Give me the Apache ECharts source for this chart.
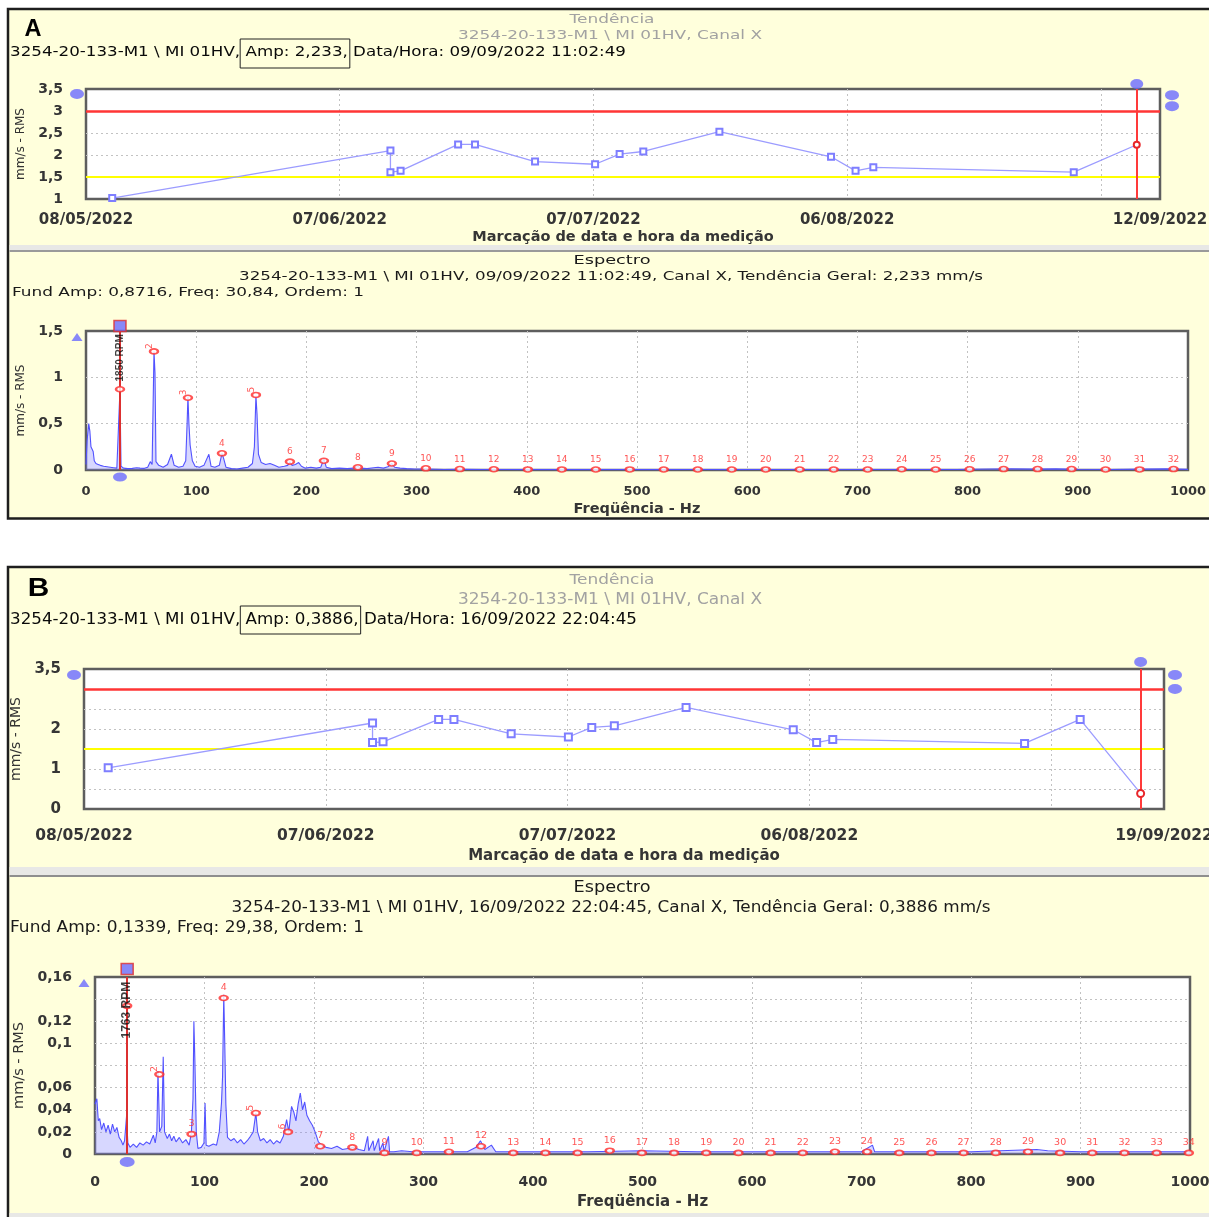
<!DOCTYPE html>
<html><head><meta charset="utf-8">
<script src="https://cdn.jsdelivr.net/npm/echarts@6/dist/echarts.min.js"></script>
<style>html,body{margin:0;padding:0;background:#fff;}#c{width:1209px;height:1217px;}</style>
</head><body><div id="c"></div>
<script>
// ---------------- DATA ----------------
const trendStart = '2022-05-08';
const trendEndA = '2022-09-12';
const trendEndB = '2022-09-19';
// day offsets from trendStart
const trendDaysA = [3.1, 36.0, 36.0, 37.2, 44.0, 46.0, 53.1, 60.2, 63.1, 65.9, 74.9, 88.1, 91.0, 93.1, 116.8, 124.25];
const trendValsA = [1.02, 2.10, 1.61, 1.64, 2.24, 2.24, 1.85, 1.79, 2.02, 2.08, 2.53, 1.96, 1.64, 1.72, 1.61, 2.233];
const trendDaysB = [3.0, 35.8, 35.8, 37.1, 44.0, 45.9, 53.0, 60.1, 63.0, 65.8, 74.7, 88.0, 90.9, 92.9, 116.7, 123.6, 131.1];
const trendValsB = [1.03, 2.15, 1.66, 1.68, 2.24, 2.24, 1.88, 1.80, 2.04, 2.08, 2.54, 1.98, 1.66, 1.74, 1.64, 2.24, 0.3886];
const alarmLevel = 3.0;
const alertLevel = 1.5;
const handleLevelsA = [3.36, 3.11];
const handleLevelsB = [3.35, 3.0];
const trendYLabelsB = [0, 1, 2, 3.5];

const fundA = 30.84, fundB = 29.38;
const rpmTextA = '1850 RPM', rpmTextB = '1763 RPM';
const rpmLabelAtA = 1.21, rpmLabelAtB = 0.13;

const spectrumA = [
[0,0.06],[1,0.32],[2.5,0.5],[3.5,0.42],[4.5,0.25],[5.5,0.27],[6.5,0.2],[7.5,0.1],[9,0.07],[11,0.06],[13,0.05],[16,0.04],[19,0.035],[22,0.03],[25,0.025],[28,0.02],[29.8,0.04],[30.8,0.86],[31.8,0.04],[34,0.02],[38,0.015],[42,0.018],[46,0.025],[49,0.02],[53,0.018],[56,0.03],[58.3,0.09],[60,0.06],[61.7,1.28],[62.6,1.05],[63.5,0.09],[66,0.05],[70,0.03],[74,0.06],[77.5,0.17],[80,0.05],[84,0.03],[88,0.04],[90.5,0.1],[91.8,0.52],[92.5,0.79],[93.4,0.5],[94.5,0.27],[96.5,0.1],[99,0.04],[103,0.03],[107,0.05],[111.5,0.17],[113.5,0.04],[117,0.03],[121,0.05],[123.4,0.18],[125,0.12],[127,0.03],[132,0.015],[137,0.01],[142,0.02],[147,0.03],[151,0.07],[152.8,0.25],[154.2,0.8],[155.2,0.6],[156.5,0.17],[159,0.08],[163,0.06],[167,0.07],[171,0.05],[175,0.03],[180,0.04],[183,0.05],[185,0.09],[187,0.05],[190,0.06],[193,0.08],[195.5,0.04],[199,0.02],[204,0.03],[209,0.02],[213,0.03],[215.9,0.12],[218,0.03],[223,0.015],[230,0.02],[237,0.015],[243,0.02],[246.7,0.04],[249,0.02],[255,0.015],[261,0.025],[265,0.03],[270,0.02],[274,0.035],[277.5,0.07],[280,0.03],[285,0.02],[291,0.015],[298,0.01],[310,0.01],[325,0.006],[340,0.008],[360,0.005],[380,0.006],[400,0.004],[430,0.005],[460,0.004],[490,0.006],[520,0.004],[550,0.005],[580,0.004],[610,0.006],[640,0.005],[670,0.004],[700,0.005],[730,0.006],[760,0.005],[790,0.006],[820,0.01],[840,0.012],[860,0.009],[880,0.012],[900,0.008],[930,0.005],[960,0.009],[980,0.012],[1000,0.007]
];
const harmonicsA = [0.8716, 1.28, 0.78, 0.18, 0.81, 0.09, 0.10, 0.03, 0.07, 0.018, 0.01, 0.008, 0.006, 0.006, 0.005, 0.006, 0.005, 0.005, 0.005, 0.006, 0.005, 0.005, 0.005, 0.008, 0.005, 0.008, 0.01, 0.01, 0.01, 0.005, 0.006, 0.01];
const rotatedLabelsA = [2, 3, 5];

const spectrumB = [
[0,0.045],[1.7,0.05],[3,0.03],[4.3,0.032],[6,0.022],[8,0.028],[10,0.02],[12,0.026],[14,0.018],[16,0.027],[18,0.02],[20,0.024],[22,0.015],[24,0.012],[25.5,0.008],[27,0.012],[28.8,0.034],[30,0.01],[32,0.006],[35,0.009],[38,0.006],[41,0.01],[44,0.008],[47,0.011],[50,0.009],[53.3,0.017],[55,0.01],[56.5,0.02],[57.5,0.075],[59,0.02],[61,0.025],[62.3,0.088],[63.5,0.02],[66,0.014],[68,0.018],[70,0.012],[72,0.016],[74,0.011],[77,0.015],[80,0.01],[83,0.013],[86,0.008],[88,0.019],[89.5,0.05],[90.3,0.12],[91.2,0.085],[92.5,0.02],[94,0.005],[97,0.006],[99.5,0.01],[100.5,0.046],[101.5,0.008],[104,0.007],[108,0.009],[111,0.008],[113.5,0.02],[115.5,0.046],[116.5,0.07],[117.6,0.144],[118.5,0.1],[119.5,0.045],[121,0.015],[124,0.012],[127,0.014],[130,0.01],[133,0.013],[136,0.009],[139,0.012],[142,0.016],[144.5,0.02],[146.9,0.037],[148.5,0.02],[151,0.012],[154,0.014],[157,0.01],[160,0.013],[163,0.009],[166,0.012],[169,0.01],[172,0.016],[175,0.031],[177,0.02],[179.5,0.043],[181.5,0.038],[183.5,0.03],[185.5,0.045],[187.5,0.055],[189.5,0.04],[191.5,0.047],[193.5,0.035],[196,0.03],[198.5,0.026],[201,0.02],[204,0.011],[207,0.008],[211,0.006],[216,0.005],[221,0.007],[226,0.004],[231,0.005],[236,0.006],[241,0.004],[246,0.003],[249,0.016],[250,0.003],[254,0.012],[255,0.003],[259,0.014],[260,0.003],[263,0.01],[264,0.002],[268,0.016],[269,0.002],[273,0.002],[280,0.003],[290,0.002],[300,0.002],[320,0.002],[340,0.002],[348,0.006],[352,0.012],[356,0.004],[362,0.008],[366,0.002],[400,0.002],[450,0.002],[500,0.003],[550,0.002],[600,0.002],[650,0.002],[700,0.002],[710,0.008],[712,0.002],[760,0.002],[800,0.002],[860,0.004],[870,0.003],[900,0.002],[950,0.002],[1000,0.002]
];
const harmonicsB = [0.1339, 0.072, 0.018, 0.141, 0.037, 0.020, 0.007, 0.006, 0.001, 0.001, 0.002, 0.007, 0.001, 0.001, 0.001, 0.003, 0.001, 0.001, 0.001, 0.001, 0.001, 0.001, 0.002, 0.002, 0.001, 0.001, 0.001, 0.001, 0.002, 0.001, 0.001, 0.001, 0.001, 0.001];
const rotatedLabelsB = [2, 5, 6];
const specYHiddenB = [0.08, 0.14];

// ---------------- HELPERS ----------------
const FONT = 'DejaVu Sans';
const DAY = 86400000;
const t0 = Date.parse(trendStart + 'T00:00:00Z');
const dayOf = s => Math.round((Date.parse(s + 'T00:00:00Z') - t0) / DAY);
const pad = n => (n < 10 ? '0' : '') + n;
function dateLabel(d) {
  const t = new Date(t0 + Math.round(d) * DAY);
  return pad(t.getUTCDate()) + '/' + pad(t.getUTCMonth() + 1) + '/' + t.getUTCFullYear();
}
const comma = v => String(parseFloat(v.toFixed(3))).replace('.', ',');

const graphics = [];
const mctx = document.createElement('canvas').getContext('2d');
function measure(text, font) { mctx.font = font; return mctx.measureText(text).width; }
function rect(x, y, w, h, style, z) {
  graphics.push({type: 'rect', silent: true, z: (z === undefined ? -10 : z), shape: {x: x, y: y, width: w, height: h}, style: style});
}
function addText(text, x, y, size, opt) {
  opt = opt || {};
  const font = (opt.weight || 'normal') + ' ' + size + 'px "' + (opt.family || FONT) + '"';
  const w = measure(text, font);
  const sx = opt.width ? opt.width / w : 1;
  const al = opt.align || 'left';
  graphics.push({type: 'text', x: x, y: y, scaleX: sx, z: 50, silent: true,
    style: {text: text, font: font, fill: opt.color || '#111', textAlign: al, align: al, textVerticalAlign: 'middle', verticalAlign: 'middle'}});
  return {sx: sx, font: font};
}
function addBoxedHeader(prefix, boxed, suffix, x, y, size, width, top, bottom) {
  const r = addText(prefix + boxed + suffix, x, y, size, {width: width, color: '#0a0a0a'});
  const x0 = x + r.sx * measure(prefix, r.font);
  const x1 = x + r.sx * measure(prefix + boxed, r.font);
  rect(x0, top, x1 - x0 + 2, bottom - top, {fill: 'none', stroke: '#222', lineWidth: 1}, 40);
}

// ---------------- PANEL DECORATION ----------------
rect(8, 9, 1215, 509.5, {fill: '#FFFFDC', stroke: '#1e1e1e', lineWidth: 2.5});
rect(9.5, 245, 1210, 5, {fill: '#e8e8e6'});
rect(9.5, 250, 1210, 2, {fill: '#9a9a9a'});
rect(8, 567, 1215, 680, {fill: '#FFFFDC', stroke: '#1e1e1e', lineWidth: 2.5});
rect(9.5, 867, 1210, 8, {fill: '#e8e8e6'});
rect(9.5, 875, 1210, 2, {fill: '#8e8e8e'});
rect(9.5, 1213, 1210, 4, {fill: '#e8e8e6'});

// Panel A texts
addText('A', 33, 29, 24, {family: 'Liberation Sans', weight: 'bold', align: 'center', color: '#000', width: 17});
addText('Tendência', 612, 20, 12, {align: 'center', color: '#a2a2a2', width: 85});
addText('3254-20-133-M1 \\ MI 01HV, Canal X', 610, 36, 13, {align: 'center', color: '#a2a2a2', width: 304});
addBoxedHeader('3254-20-133-M1 \\ MI 01HV,', ' Amp: 2,233,', ' Data/Hora: 09/09/2022 11:02:49', 10, 52, 14, 616, 39, 68);
addText('Espectro', 612, 261, 13, {align: 'center', color: '#1a1a1a', width: 77});
addText('3254-20-133-M1 \\ MI 01HV, 09/09/2022 11:02:49, Canal X, Tendência Geral: 2,233 mm/s', 611, 277, 13, {align: 'center', color: '#1a1a1a', width: 744});
addText('Fund Amp: 0,8716, Freq: 30,84, Ordem: 1', 12, 293, 13, {color: '#1a1a1a', width: 352});

// Panel B texts
addText('B', 38.5, 589, 26, {family: 'Liberation Sans', weight: 'bold', align: 'center', color: '#000', width: 21.5});
addText('Tendência', 612, 580, 14, {align: 'center', color: '#a2a2a2', width: 85});
addText('3254-20-133-M1 \\ MI 01HV, Canal X', 610, 600, 15, {align: 'center', color: '#a2a2a2', width: 304});
addBoxedHeader('3254-20-133-M1 \\ MI 01HV,', ' Amp: 0,3886,', ' Data/Hora: 16/09/2022 22:04:45', 10, 620, 16, 627, 606, 634);
addText('Espectro', 612, 888, 15, {align: 'center', color: '#1a1a1a', width: 77});
addText('3254-20-133-M1 \\ MI 01HV, 16/09/2022 22:04:45, Canal X, Tendência Geral: 0,3886 mm/s', 611, 908, 15, {align: 'center', color: '#1a1a1a', width: 759});
addText('Fund Amp: 0,1339, Freq: 29,38, Ordem: 1', 10, 928, 15, {color: '#1a1a1a', width: 354});

// ---------------- AXES ----------------
const grid = [
  {left: 86, top: 89, width: 1074, height: 110},
  {left: 86, top: 331, width: 1102, height: 139},
  {left: 84, top: 669, width: 1080, height: 140},
  {left: 95, top: 977, width: 1095, height: 177}
].map(g => Object.assign({show: true, backgroundColor: '#ffffff', borderColor: '#5e5e5e', borderWidth: 2.5, containLabel: false, outerBoundsMode: 'none'}, g));

const gridLine = {show: true, showMinLine: false, showMaxLine: false, lineStyle: {color: '#c2c2c2', width: 1, type: [2, 3]}};
function lbl(size, extra) {
  return Object.assign({fontFamily: FONT, fontWeight: 'bold', fontSize: size, color: '#353535'}, extra || {});
}
function axis(gi, o) {
  return Object.assign({gridIndex: gi, type: 'value', axisLine: {show: false}, axisTick: {show: false}, splitLine: gridLine, nameLocation: 'middle'}, o);
}
const endA = dayOf(trendEndA), endB = dayOf(trendEndB);
const trendFmt = end => (v => (v !== end && end - v < 20) ? '' : dateLabel(v));
const plain = v => String(v);

const xAxis = [
  axis(0, {min: 0, max: endA, interval: 30, axisLabel: lbl(15, {margin: 14, formatter: trendFmt(endA)}),
    name: 'Marcação de data e hora da medição', nameGap: 31, nameTextStyle: lbl(14.5)}),
  axis(1, {min: 0, max: 1000, interval: 100, axisLabel: lbl(13, {margin: 15, formatter: plain}),
    name: 'Freqüência - Hz', nameGap: 32, nameTextStyle: lbl(14.5)}),
  axis(2, {min: 0, max: endB, interval: 30, axisLabel: lbl(15.5, {margin: 19, formatter: trendFmt(endB)}),
    name: 'Marcação de data e hora da medição', nameGap: 40, nameTextStyle: lbl(15)}),
  axis(3, {min: 0, max: 1000, interval: 100, axisLabel: lbl(14, {margin: 21, formatter: plain}),
    name: 'Freqüência - Hz', nameGap: 41, nameTextStyle: lbl(15)})
];
const yName = size => ({fontFamily: FONT, fontSize: size, color: '#333'});
const yAxis = [
  axis(0, {min: 1, max: 3.5, interval: 0.5, axisLabel: lbl(14, {margin: 23, formatter: comma}),
    name: 'mm/s - RMS', nameGap: 57, nameTextStyle: yName(12)}),
  axis(1, {min: 0, max: 1.5, interval: 0.5, axisLabel: lbl(14, {margin: 23, formatter: comma}),
    name: 'mm/s - RMS', nameGap: 54, nameTextStyle: yName(12)}),
  axis(2, {min: 0, max: 3.5, interval: 0.5, axisLabel: lbl(15, {margin: 23,
      formatter: v => trendYLabelsB.some(s => Math.abs(s - v) < 1e-6) ? comma(v) : ''}),
    name: 'mm/s - RMS', nameGap: 54, nameTextStyle: yName(14)}),
  axis(3, {min: 0, max: 0.16, interval: 0.02, axisLabel: lbl(14, {margin: 23,
      formatter: v => specYHiddenB.some(s => Math.abs(s - v) < 1e-6) ? '' : comma(v)}),
    name: 'mm/s - RMS', nameGap: 66, nameTextStyle: yName(14.5)})
];

// ---------------- SERIES ----------------
const series = [];
const HANDLE = '#6a6aff';
function addTrend(idx, days, vals, xMax, yMin, yMax, handleLevels, symSize, off) {
  const n = days.length;
  const pts = days.map((d, i) => i === n - 1
    ? {value: [d, vals[i]], symbol: 'emptyCircle', symbolSize: symSize, itemStyle: {color: '#e8262a', borderColor: '#e8262a', borderWidth: 1.2}}
    : [d, vals[i]]);
  series.push({type: 'line', xAxisIndex: idx, yAxisIndex: idx, data: pts, z: 6, animation: false, silent: true,
    symbol: 'emptyRect', symbolSize: symSize, showAllSymbol: true,
    lineStyle: {color: '#9c9cff', width: 1.3}, itemStyle: {color: '#7e7eff', borderWidth: 1.2}});
  series.push({type: 'scatter', xAxisIndex: idx, yAxisIndex: idx, z: 8, clip: false, animation: false, silent: true,
    symbol: 'circle', itemStyle: {color: HANDLE},
    data: [
      {value: [0, yMax], symbolSize: [14, 10], symbolOffset: off.left},
      {value: [days[n - 1], yMax], symbolSize: [13, 10], symbolOffset: off.top},
      {value: [xMax, handleLevels[0]], symbolSize: [14, 10], symbolOffset: off.right},
      {value: [xMax, handleLevels[1]], symbolSize: [14, 10], symbolOffset: off.right}
    ],
    markLine: {silent: true, symbol: 'none', animation: false, label: {show: false}, data: [
      {yAxis: alarmLevel, lineStyle: {color: '#ff3535', width: 2.5, type: 'solid'}},
      {yAxis: alertLevel, lineStyle: {color: '#ffff00', width: 2.2, type: 'solid'}},
      {xAxis: days[n - 1], lineStyle: {color: '#ff3a3a', width: 2, type: 'solid'}}
    ]}});
}
function addSpectrum(idx, spec, fund, harm, rotated, rpmText, rpmAt, yMax, o) {
  series.push({type: 'line', xAxisIndex: idx, yAxisIndex: idx, data: spec, symbol: 'none', z: 2, animation: false, silent: true,
    lineStyle: {color: '#5252ff', width: 1.1}, areaStyle: {color: 'rgba(130,130,255,0.45)'}});
  series.push({type: 'scatter', xAxisIndex: idx, yAxisIndex: idx, z: 6, animation: false, silent: true,
    symbol: 'emptyCircle', symbolSize: [8, 5], itemStyle: {color: '#ff2a2a', borderColor: '#ff2a2a', borderWidth: 1},
    data: harm.map((a, i) => {
      const item = {value: [(i + 1) * fund, a]};
      if (rotated.indexOf(i + 1) >= 0) item.label = {rotate: 90};
      return item;
    }),
    label: {show: true, position: 'top', distance: 2, color: '#ff2a2a', fontSize: o.hs, fontFamily: FONT,
      formatter: p => p.dataIndex === 0 ? '' : String(p.dataIndex + 1)}});
  series.push({type: 'scatter', xAxisIndex: idx, yAxisIndex: idx, z: 8, clip: false, animation: false, silent: true,
    data: [
      {value: [fund, rpmAt], symbol: 'circle', symbolSize: 1, itemStyle: {color: 'rgba(0,0,0,0)'},
        label: {show: true, formatter: rpmText, rotate: 90, position: 'inside', color: '#111',
          fontFamily: 'Liberation Sans', fontWeight: 'bold', fontSize: o.rs}},
      {value: [fund, yMax], symbol: 'rect', symbolSize: [12, 11], symbolOffset: [0, o.sq],
        itemStyle: {color: HANDLE, borderColor: '#e03030', borderWidth: 1.5}},
      {value: [fund, 0], symbol: 'circle', symbolSize: o.ell, symbolOffset: [0, o.ellOff], itemStyle: {color: HANDLE}},
      {value: [0, yMax], symbol: 'triangle', symbolSize: [11, 8], symbolOffset: o.tri, itemStyle: {color: HANDLE}}
    ],
    markLine: {silent: true, symbol: 'none', animation: false, label: {show: false}, data: [
      {xAxis: fund, lineStyle: {color: '#dc3030', width: 2, type: 'solid'}}
    ]}});
}

addTrend(0, trendDaysA, trendValsA, endA, 1, 3.5, handleLevelsA, 6, {left: [-9, 5], top: [0, -5], right: [12, 0]});
addSpectrum(1, spectrumA, fundA, harmonicsA, rotatedLabelsA, rpmTextA, rpmLabelAtA, 1.5,
  {hs: 9, rs: 10, sq: -5, ell: [14, 9], ellOff: 7, tri: [-9, 6]});
addTrend(2, trendDaysB, trendValsB, endB, 0, 3.5, handleLevelsB, 7, {left: [-10, 6], top: [0, -7], right: [11, 0]});
addSpectrum(3, spectrumB, fundB, harmonicsB, rotatedLabelsB, rpmTextB, rpmLabelAtB, 0.16,
  {hs: 9.5, rs: 12, sq: -8, ell: [15, 10], ellOff: 8, tri: [-11, 6]});

const chart = echarts.init(document.getElementById('c'), null, {renderer: 'canvas', width: 1209, height: 1217});
chart.setOption({
  animation: false,
  backgroundColor: '#ffffff',
  graphic: {elements: graphics},
  grid: grid, xAxis: xAxis, yAxis: yAxis, series: series
});
</script></body></html>
